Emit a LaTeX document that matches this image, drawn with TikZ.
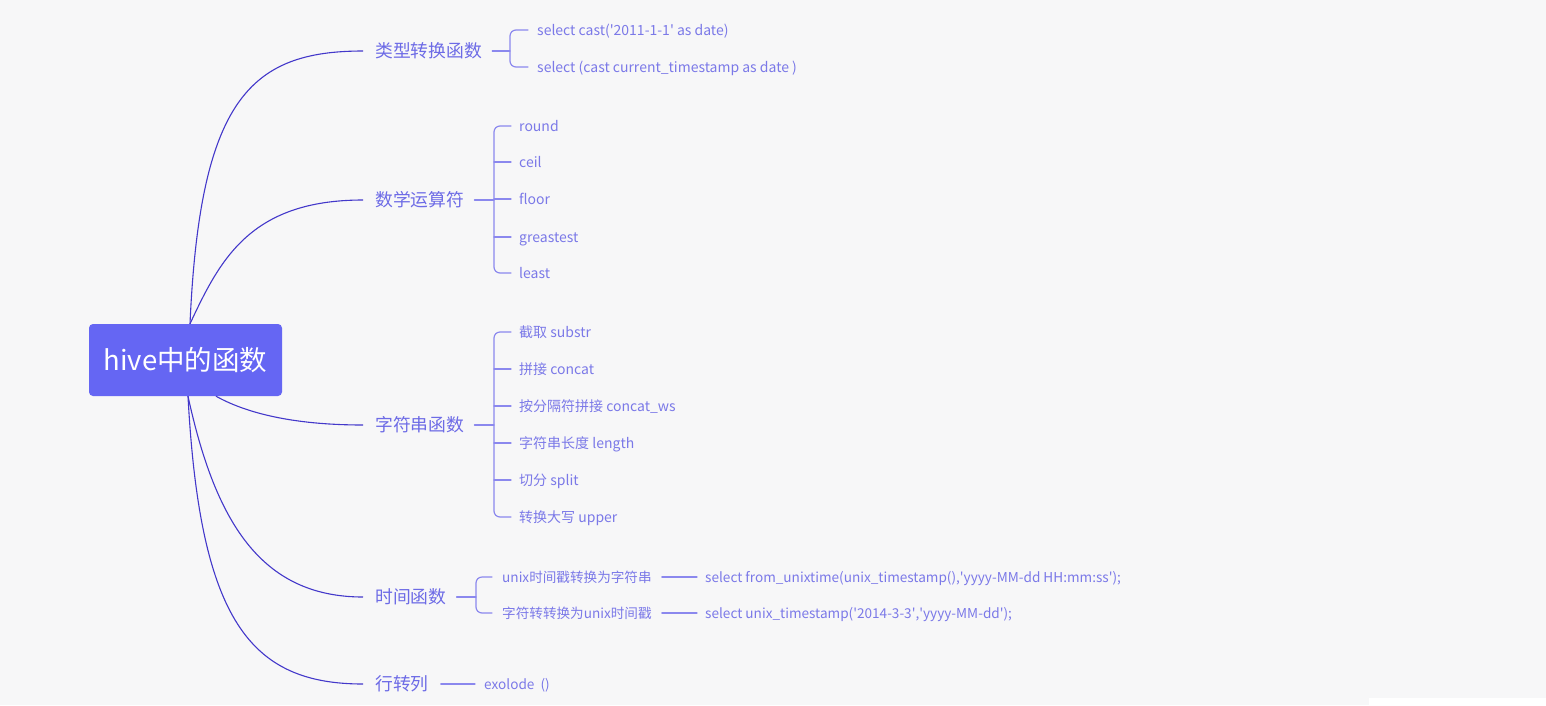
\documentclass[tikz,border=0pt]{standalone}
\usepackage{fontspec}
\setmainfont{Noto Sans CJK SC}
\usetikzlibrary{calc}
\definecolor{bg}{HTML}{F7F7F8}
\definecolor{rootcol}{HTML}{6566F3}
\definecolor{maincol}{HTML}{4338CA}
\definecolor{l1col}{HTML}{6D6BE6}
\definecolor{leafcol}{HTML}{7B79E8}
\definecolor{brcol}{HTML}{8B88EE}
\newcommand\sq{\textquotesingle}
\tikzset{
  main/.style={draw=maincol, line width=1.1pt},
  br/.style={draw=brcol, line width=1.2pt, line cap=round},
  rootbox/.style={fill=rootcol, rounded corners=4pt, minimum width=193pt, minimum height=72pt, inner sep=0, text=white, font=\fontsize{27.5}{30}\selectfont, text height=1.15em, text depth=0em},
  lvl1/.style={anchor=west, inner sep=0, text=l1col, font=\fontsize{17.8}{20}\selectfont, text height=1.2em, text depth=0em},
  leaf/.style={anchor=west, inner sep=0, text=leafcol, font=\fontsize{14}{16}\selectfont, text height=1.1em, text depth=0em},
  leafs/.style={leaf, font=\fontsize{13.6}{15}\selectfont},
}
\begin{document}
\begin{tikzpicture}[x=1pt,y=-1pt]
\fill[bg] (0,0) rectangle (1546,705);
\useasboundingbox (0,0) rectangle (1546,705);
\fill[white] (1369,698) rectangle (1546,705);

\node[rootbox] (root) at (185.5,360) {\raisebox{-5pt}{hive中的函数}};

\node[lvl1] (b1) at (375,51) {类型转换函数};
\node[lvl1] (b2) at (375,200) {数学运算符};
\node[lvl1] (b3) at (375,425) {字符串函数};
\node[lvl1] (b4) at (375,597) {时间函数};
\node[lvl1] (b5) at (375,684) {行转列};

% main curves
\draw[main] ([xshift=4.5]root.north) .. controls +(10,-224) and +(-113,0) .. ([xshift=-12]b1.west);
\draw[main] ([xshift=4.5]root.north) .. controls +(30,-64) and +(-113,0) .. ([xshift=-12]b2.west);
\draw[main] ([xshift=30.5]root.south) .. controls +(34,19) and +(-63,0) .. ([xshift=-12]b3.west);
\draw[main] ([xshift=2.5]root.south) .. controls +(27,124) and +(-103,0) .. ([xshift=-12]b4.west);
\draw[main] ([xshift=2.5]root.south) .. controls +(12,224) and +(-113,0) .. ([xshift=-12]b5.west);

% type conversion
\node[leaf] (c1) at (537,30) {select cast(\sq2011-1-1\sq{} as date)};
\node[leaf] (c2) at (537,67) {select (cast current\_timestamp as date )};
\draw[br] ([xshift=10]b1.east) -- ([xshift=-27]c1.west |- b1.east);
\draw[br, rounded corners=6pt] ([xshift=-9]c1.west) -- ([xshift=-27]c1.west) -- ([xshift=-27]c2.west) -- ([xshift=-9]c2.west);

% math
\node[leaf] (m1) at (519,126) {round};
\node[leaf] (m2) at (519,162) {ceil};
\node[leaf] (m3) at (519,199) {floor};
\node[leaf] (m4) at (519,237) {greastest};
\node[leaf] (m5) at (519,273) {least};
\draw[br] ([xshift=10]b2.east) -- ([xshift=-25]m1.west |- b2.east);
\draw[br, rounded corners=6pt] ([xshift=-8]m1.west) -- ([xshift=-25]m1.west) -- ([xshift=-25]m5.west) -- ([xshift=-8]m5.west);
\foreach \n in {m2,m3,m4} \draw[br] ([xshift=-25]\n.west) -- ([xshift=-8]\n.west);

% string
\node[leaf] (s1) at (519,332) {截取 substr};
\node[leaf] (s2) at (519,369) {拼接 concat};
\node[leaf] (s3) at (519,406) {按分隔符拼接 concat\_ws};
\node[leaf] (s4) at (519,443) {字符串长度 length};
\node[leaf] (s5) at (519,480) {切分 split};
\node[leaf] (s6) at (519,517) {转换大写 upper};
\draw[br] ([xshift=10]b3.east) -- ([xshift=-25]s1.west |- b3.east);
\draw[br, rounded corners=6pt] ([xshift=-8]s1.west) -- ([xshift=-25]s1.west) -- ([xshift=-25]s6.west) -- ([xshift=-8]s6.west);
\foreach \n in {s2,s3,s4,s5} \draw[br] ([xshift=-25]\n.west) -- ([xshift=-8]\n.west);

% time
\node[leafs] (t1) at (502,577) {unix时间戳转换为字符串};
\node[leafs] (t2) at (502,613) {字符转转换为unix时间戳};
\node[leafs] (u1) at (705,577) {select from\_unixtime(unix\_timestamp(),\sq yyyy-MM-dd HH:mm:ss\sq);};
\node[leafs] (u2) at (705,613) {select unix\_timestamp(\sq2014-3-3\sq,\sq yyyy-MM-dd\sq);};
\draw[br] ([xshift=10]b4.east) -- ([xshift=-26]t1.west |- b4.east);
\draw[br, rounded corners=6pt] ([xshift=-10]t1.west) -- ([xshift=-26]t1.west) -- ([xshift=-26]t2.west) -- ([xshift=-10]t2.west);
\draw[br] ([xshift=10]t1.east) -- ([xshift=-8]u1.west);
\draw[br] ([xshift=10]t2.east) -- ([xshift=-8]u2.west);

% row to column
\node[leafs] (e1) at (484,684) {exolode\ \ ()};
\draw[br] ([xshift=12]b5.east) -- ([xshift=-9]e1.west);
\end{tikzpicture}
\end{document}
